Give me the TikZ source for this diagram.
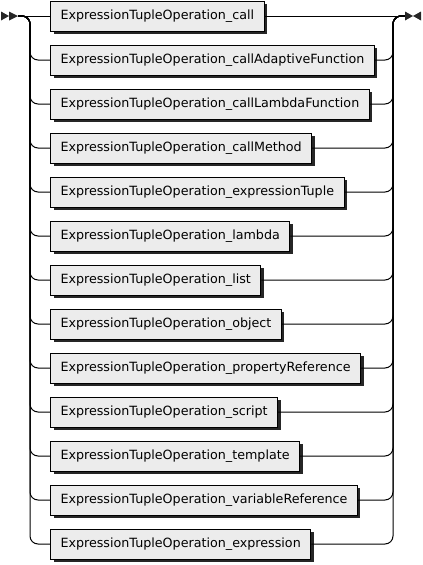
\documentclass[tikz,border=0pt]{standalone}
\usepackage{fontspec}
\setmainfont{DejaVu Sans}
\usepackage{tikz}
\usetikzlibrary{positioning, calc, shadows}
\tikzset{
  rulebox/.style={rectangle, draw=black, line width=1pt, fill=gray!15, minimum height=30pt, inner xsep=10pt, anchor=west, font=\fontsize{12.7}{15}\selectfont,
    drop shadow={shadow xshift=3pt, shadow yshift=-3pt, fill=black!85, opacity=1}},
  rail/.style={draw=black, line width=1pt, rounded corners=8pt},
  tip/.style={fill=black!85},
}

\begin{document}
\begin{tikzpicture}[x=1pt, y=-1pt]
  \useasboundingbox (0,0) rectangle (423,565);

  % entry and exit points
  \coordinate (start) at (18,16);
  \coordinate (split) at (30,16);
  \coordinate (join) at (393,16);
  \coordinate (finish) at (405,16);

  % alternatives
  \foreach \i/\name in {0/call, 1/callAdaptiveFunction, 2/callLambdaFunction, 3/callMethod,
      4/expressionTuple, 5/lambda, 6/list, 7/object, 8/propertyReference, 9/script,
      10/template, 11/variableReference, 12/expression} {
    \node[rulebox] (op\i) at (50,{16+44*\i}) {ExpressionTupleOperation\_\name\hspace{10pt}};
  }

  % top line
  \draw[rail] (start) -- (op0.west);
  \draw[rail] (op0.east) -- (finish);

  % branches
  \foreach \i in {1,...,12} {
    \draw[rail] (start) -- (split) -- (split |- op\i.west) -- (op\i.west);
    \draw[rail] (op\i.east) -- (join |- op\i.east) -- (join) -- (finish);
  }

  % start and end marks
  \fill[tip] (start) ++(-17,-4.5) -- ++(8,4.5) -- ++(-8,4.5) -- cycle;
  \fill[tip] (start) ++(-9,-4.5) -- ++(9,4.5) -- ++(-9,4.5) -- cycle;
  \fill[tip] (finish) ++(0,-4.5) -- ++(8,4.5) -- ++(-8,4.5) -- cycle;
  \fill[tip] (finish) ++(16,-4.5) -- ++(-8,4.5) -- ++(8,4.5) -- cycle;
\end{tikzpicture}
\end{document}
